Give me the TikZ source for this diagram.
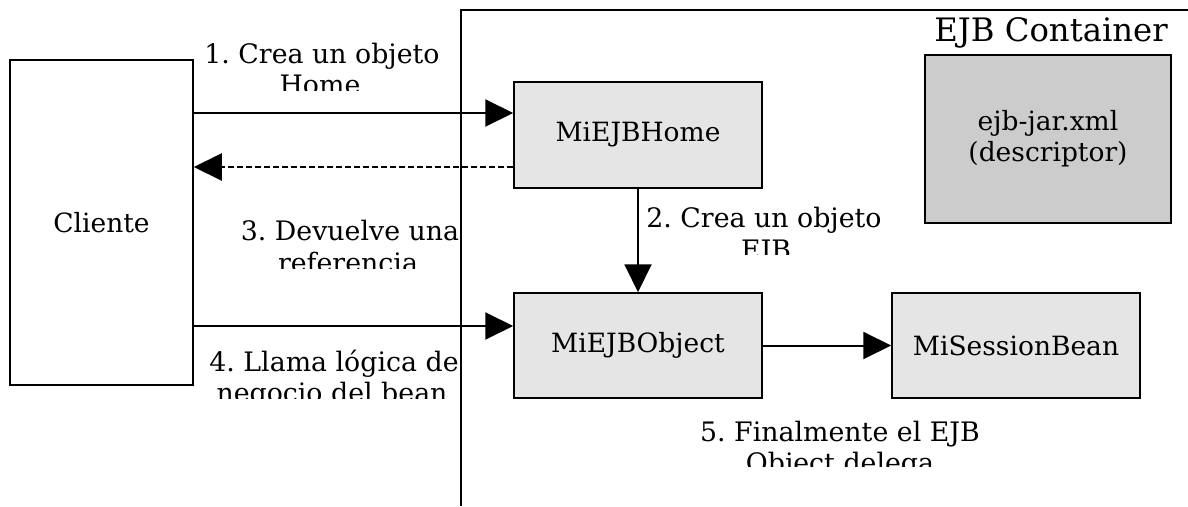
\documentclass[tikz,border=0pt]{standalone}
\usepackage{fontspec}
\setmainfont{DejaVu Serif}
\usetikzlibrary{arrows.meta}
\frenchspacing
\begin{document}
\begin{tikzpicture}[x=1pt,y=-1pt,
  box/.style={draw=black,line width=1.5pt,inner sep=0pt,font=\fontsize{26.5}{31}\selectfont},
  lbl/.style={anchor=base,inner sep=0pt,font=\fontsize{26.8}{31}\selectfont},
  arr/.style={line width=2pt,-{Triangle[length=28pt,width=27pt]}}]
\useasboundingbox (0,0) rectangle (1188,506);
% container outline
\draw[line width=1.5pt] (461,506) -- (461,10) -- (1188,10);
\node[lbl,font=\fontsize{32.3}{38}\selectfont] (title) at (1051,41.5) {EJB Container};
% components
\node[box,minimum width=183pt,minimum height=325pt] (cli) at (101.5,222.5) {Cliente};
\node[box,fill=black!10,minimum width=248pt,minimum height=106pt] (home) at (638,135) {MiEJBHome};
\node[box,fill=black!20,minimum width=246pt,minimum height=168pt,align=center] (dd) at (1048,139) {ejb-jar.xml\\(descriptor)};
\node[box,fill=black!10,minimum width=248pt,minimum height=105pt] (obj) at (638,345.5) {MiEJBObject};
\node[box,fill=black!10,minimum width=248pt,minimum height=105pt] (bean) at (1016,345.5) {MiSessionBean};
% calls
\draw[arr] (cli.east |- 0,113) -- (home.west |- 0,113);
\draw[arr,dash pattern=on 6pt off 3pt] (home.west |- 0,167) -- (cli.east |- 0,167);
\draw[arr] (home.south) -- (obj.north);
\draw[arr] (cli.east |- 0,326) -- (obj.west |- 0,326);
\draw[arr] (obj.east) -- (bean.west);
% step labels, cut off below their first line
\begin{scope}
\clip (190,0) rectangle (460,90);
\node[lbl] (s1a) at (322,63) {1. Crea un objeto};
\node[lbl] (s1b) at (320,94.5) {Home};
\end{scope}
\begin{scope}
\clip (640,195) rectangle (900,254);
\node[lbl] (s2a) at (764,227) {2. Crea un objeto};
\node[lbl] (s2b) at (766,259.5) {EJB};
\end{scope}
\begin{scope}
\clip (200,200) rectangle (460,268);
\node[lbl] (s3a) at (350,240) {3. Devuelve una};
\node[lbl] (s3b) at (348,272) {referencia};
\end{scope}
\begin{scope}
\clip (200,340) rectangle (460,398);
\node[lbl] (s4a) at (334,371.7) {4. Llama lógica de};
\node[lbl] (s4b) at (332,402) {negocio del bean};
\end{scope}
\begin{scope}
\clip (690,410) rectangle (1000,466);
\node[lbl] (s5a) at (840,441.7) {5. Finalmente el EJB};
\node[lbl] (s5b) at (840,472.5) {Object delega};
\end{scope}
\end{tikzpicture}
\end{document}
